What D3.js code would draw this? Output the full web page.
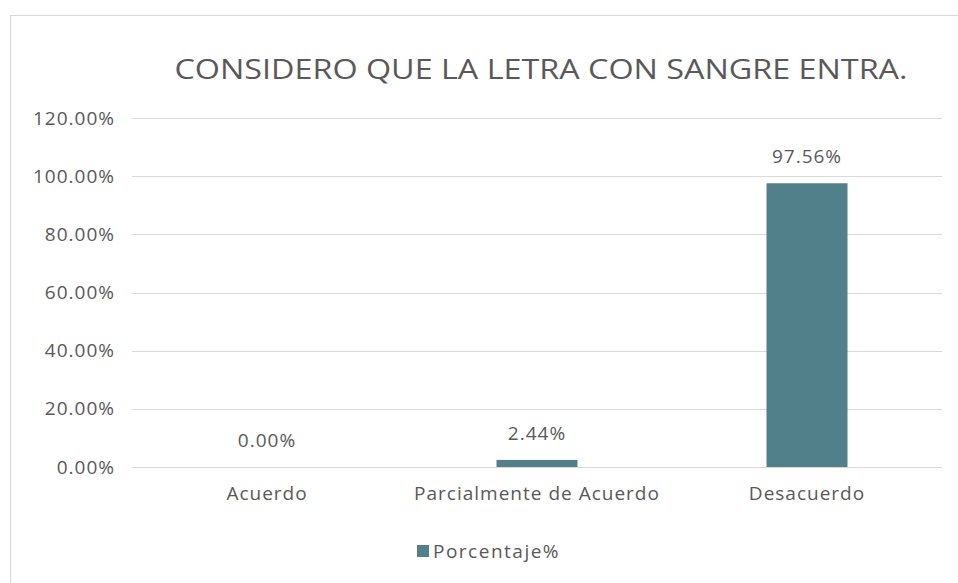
<!DOCTYPE html>
<html>
<head>
<meta charset="utf-8">
<script src="https://cdn.jsdelivr.net/npm/d3@7"></script>
<style>
  body { margin: 0; background: #fff; }
  text { font-family: "Open Sans", "Liberation Sans", sans-serif; fill: #595959; }
</style>
</head>
<body>
<div id="chart"></div>
<script>
// chart data
var categories = ["Acuerdo", "Parcialmente de Acuerdo", "Desacuerdo"];
var values = [0.00, 2.44, 97.56];
var yTicks = [0, 20, 40, 60, 80, 100, 120];
var seriesName = "Porcentaje%";
var title = "CONSIDERO QUE LA LETRA CON SANGRE ENTRA.";

var svgWidth = 958;
var svgHeight = 583;
var margin = { top: 118, right: 16, bottom: 116, left: 132 };
var chartWidth = svgWidth - margin.left - margin.right;
var chartHeight = svgHeight - margin.top - margin.bottom;

var svg = d3.select("#chart")
  .append("svg")
  .attr("width", svgWidth)
  .attr("height", svgHeight);

// outer chart border
svg.append("rect")
  .attr("x", 10.5).attr("y", 15.5)
  .attr("width", 1000).attr("height", 1000)
  .attr("fill", "none")
  .attr("stroke", "#d9d9d9");

var chartGroup = svg.append("g")
  .attr("transform", `translate(${margin.left}, ${margin.top})`);

var x = d3.scaleBand()
  .domain(categories)
  .range([0, chartWidth])
  .paddingInner(0.7)
  .paddingOuter(0.35);

var y = d3.scaleLinear()
  .domain([0, 120])
  .range([chartHeight, 0]);

// gridlines
chartGroup.append("g")
  .selectAll("line")
  .data(yTicks)
  .enter()
  .append("line")
  .attr("x1", 0).attr("x2", chartWidth)
  .attr("y1", d => Math.round(y(d)) + 0.5)
  .attr("y2", d => Math.round(y(d)) + 0.5)
  .attr("stroke", "#d9d9d9")
  .attr("stroke-width", 1);

// y axis labels
var leftAxis = d3.axisLeft(y)
  .tickValues(yTicks)
  .tickSize(0)
  .tickPadding(17)
  .tickFormat(d => d.toFixed(2) + "%");

chartGroup.append("g")
  .call(leftAxis)
  .call(g => g.select(".domain").remove())
  .selectAll("text")
  .style("font-size", "19px")
  .style("letter-spacing", "1px")
  .style("fill", "#595959");

// x axis labels
var bottomAxis = d3.axisBottom(x).tickSize(0).tickPadding(20);
chartGroup.append("g")
  .attr("transform", `translate(0, ${chartHeight})`)
  .call(bottomAxis)
  .call(g => g.select(".domain").remove())
  .selectAll("text")
  .style("font-size", "19px")
  .style("letter-spacing", "1px")
  .style("fill", "#595959");

// bars
chartGroup.append("g")
  .selectAll("rect")
  .data(values)
  .enter()
  .append("rect")
  .attr("x", (d, i) => x(categories[i]))
  .attr("y", d => y(d))
  .attr("width", x.bandwidth())
  .attr("height", d => chartHeight - y(d))
  .attr("fill", "#52808a");

// data labels
chartGroup.append("g")
  .selectAll("text")
  .data(values)
  .enter()
  .append("text")
  .attr("x", (d, i) => x(categories[i]) + x.bandwidth() / 2)
  .attr("y", d => y(d) - 20)
  .attr("text-anchor", "middle")
  .style("font-size", "19px")
  .style("letter-spacing", "1px")
  .text(d => d.toFixed(2) + "%");

// title
svg.append("text")
  .attr("x", 541)
  .attr("y", 79)
  .attr("text-anchor", "middle")
  .attr("textLength", 733)
  .attr("lengthAdjust", "spacingAndGlyphs")
  .style("font-size", "28px")
  .style("fill", "#595959")
  .text(title);

// legend
var legend = svg.append("g").attr("transform", "translate(417, 545)");
legend.append("rect")
  .attr("x", 0).attr("y", 0)
  .attr("width", 12).attr("height", 12)
  .attr("fill", "#52808a");
legend.append("text")
  .attr("x", 16)
  .attr("y", 13)
  .style("font-size", "19px")
  .style("letter-spacing", "1.5px")
  .text(seriesName);
</script>
</body>
</html>
